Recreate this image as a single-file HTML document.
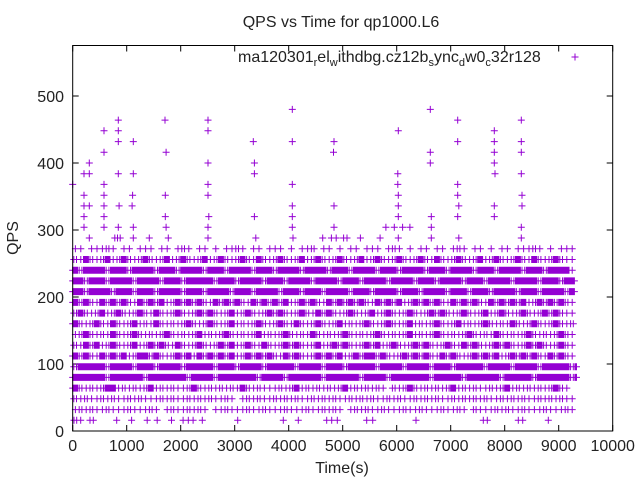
<!DOCTYPE html>
<html><head><meta charset="utf-8"><style>
html,body{margin:0;padding:0;background:#fff}
svg{display:block}
text{font-family:"Liberation Sans",sans-serif;fill:#222}
</style></head><body>
<svg id="chart" width="640" height="480" viewBox="0 0 640 480">
<rect x="0" y="0" width="640" height="480" fill="#fff"/>
<text x="341" y="27" font-size="16" text-anchor="middle">QPS vs Time for qp1000.L6</text>
<text transform="translate(18,238) rotate(-90)" font-size="16" text-anchor="middle">QPS</text>
<text x="342" y="473" font-size="16" text-anchor="middle">Time(s)</text>
<g id="ticks"></g>
<g id="marks"></g>
<rect x="72.7" y="45.5" width="540" height="385.5" fill="none" stroke="#000" stroke-width="1"/>
<g>
<text x="238" y="62" font-size="16">ma120301<tspan font-size="11" dy="4">r</tspan><tspan dy="-4">el</tspan><tspan font-size="11" dy="4">w</tspan><tspan dy="-4">ithdbg.cz12b</tspan><tspan font-size="11" dy="4">s</tspan><tspan dy="-4">ync</tspan><tspan font-size="11" dy="4">d</tspan><tspan dy="-4">w0</tspan><tspan font-size="11" dy="4">c</tspan><tspan dy="-4">32r128</tspan></text>
<path d="M571.5 57h7M575 53.5v7" stroke="#9400d3" stroke-width="1"/>
</g>
</svg>
<script>
const xTicks=[0,1000,2000,3000,4000,5000,6000,7000,8000,9000,10000];
const yTicks=[0,100,200,300,400,500];
const rowLevels=[32,48,64,80,96,112,128,144,160,176,192,208,224,240,256,272];
// each char = 100s bin: '#' dense, 'o' short run, '+' one point, '-' one point, ' ' none
const rowBins=[
"+o+o++o+-+o+++o+ +o++o+o+ -+o+++o++o+-+o+++o++o+o+ +o+o++o+-+o++o+++o++o+ o+++o+o++o+-+o+++o+",
"o+o++o+o++o+o+-+o+o++o+o+o++o+ +o+o++o+o+o++o+o+o++o+o+o+-o+o++o+o+o++o+o+o+o++o+o+o++o+o+o++",
"#o+o+o##+o+o+o#+o+o++o#o+o+o+o+#o+o+-+o+o#+o+o+o+o#+o+o+o+ o+o#o+o+o+o#+o+o++o+o#+o+o+o+o#o+",
"######o######o#######o####o#######o####o######o######o####o#######o#####o######o#####o######o#",
"o#####o####o###o####o#####o###o####o#####o####o###o#####o####o####o###o#####o####o####o#####o#",
"#o#o+#o#o#+o##o#o+o#o#+#o#o#o#+o#o#o#o+#o#o+o#o#o#+o#o##o#o+o#o#o#o+#o#o+o#o#o#+o#o#o#o+#o#o+",
"o+#o#+o#o+o#+o#o#o+#o+o#o+o#o#+o#o+#o+o#o#o+o#+o#o#o+o#o#+o#o+o#o#o+o#o+#o#o+o#o#o+o#o#o+o#o+",
"+o#o+o+#o+o#o+o+o#o+o+o#+o+o#o+o+o#+o+o#o+o+#o+o+o#o+o+o#o+o+o#+o+o#o+o+o#o+o+#o+o+o#o+o+o#o+",
"#o+o#o+#o+o#+o+#o+o+o#o+o#o+o#+o+o#o+o#o+#o+o#o+o#+o+o#o+o#o+o#+o+o#o+o#+o+o#o+o+#o+o#o+o#o+o",
"o#o+o#+o#o+o#o+#o+o#o+o#o#o+o#+o#o+o#o#o+o#o+#o#o+o#o+o#+o#o+o#o+o#o#o+o#o+o#+o#o+o#o+o#o#o++",
"#o#o+#o#o#o+#o#o#+o#o#o#o+#o#o#o+#o#o#o#+o#o#o+#o#o#o#o+#o#o#+o#o#o#o+#o#o#o+#o#o#o#+o#o#o#o+",
"##o####o###o###o####o###o####o###o####o###o###o####o###o####o###o####o###o###o####o###o####o#",
"##o###o####o####o###o#####o###o####o###o####o####o###o####o####o###o####o###o####o####o###o##",
"#o####o###o####o###o####o###o####o###o####o####o###o####o###o####o###o####o###o####o###o####+",
"o+#o+o#+o#o+o#o+o#+o#o+o#+o#o+o#o+#o+o#o+o#+o#o+o#o+o#+o#o+o#o+o#o+#o+o#o+o#+o#o+o#o+#o+o#o++",
"-+ +-+o+ -+ +-+ +- +o+ -+ + -+o+ -+ +-+ + -+o -+ + -+ +-+ +o- + -+ +- +o+ -+ + -+ +-+o+ - +-+ "
];
const row16Times=[24,74,148,320,382,815,1090,1380,1565,1830,2045,2140,2230,2400,3055,3900,4178,4703,4796,4900,5444,5555,6357,7603,7677,8251,8333,8807];
const upperTimes=[0,209,307,307,209,209,307,209,209,307,580,580,580,580,580,580,580,845,845,845,845,860,845,780,830,880,1123,1123,1110,1100,1123,1123,1419,1710,1730,1715,1715,1730,1770,2506,2506,2506,2506,2506,2520,2506,2506,3345,3365,3365,3365,3390,4067,4067,4067,4067,4067,4067,4080,4630,4790,4880,4839,4830,4839,4839,5017,5080,5327,5692,5800,5955,6110,6245,6030,6020,6020,6030,6030,6030,6030,6622,6622,6622,6640,6640,6640,7130,7130,7130,7130,7150,7130,7150,7807,7807,7807,7807,7820,7807,7807,8307,8307,8307,8307,8320,8320,8307,8307];
const upperQps=[368,384,384,400,352,336,336,320,304,288,448,416,368,352,336,320,304,464,448,432,384,336,304,288,288,288,432,384,352,336,304,288,288,464,416,352,320,304,288,464,448,400,368,352,320,304,288,432,400,384,320,288,480,432,368,336,320,304,288,288,288,288,432,416,336,304,288,288,288,288,304,304,304,304,448,384,368,352,336,320,288,480,416,400,320,304,288,464,432,368,352,336,320,288,448,432,416,400,384,336,320,464,432,416,384,352,336,304,288];

const X0=72.7,X1=612.7,Y0=431,Y1=96;
function xs(t){return X0+(t/10000)*(X1-X0);}
function ys(q){return Y0-(q/500)*(Y0-Y1);}
const NS="http://www.w3.org/2000/svg";
function cross(x,y){return "M"+(x-3.5).toFixed(1)+" "+y.toFixed(1)+"h7M"+x.toFixed(1)+" "+(y-3.5).toFixed(1)+"v7";}
const tg=document.getElementById('ticks');
let td="";
xTicks.forEach(function(v){
  const x=xs(v);
  td+="M"+x+" 431v-6M"+x+" 45.5v6";
  const t=document.createElementNS(NS,'text');
  t.setAttribute('x',x);t.setAttribute('y',451);t.setAttribute('font-size','16');t.setAttribute('text-anchor','middle');
  
  
  t.textContent=v;tg.appendChild(t);
});
yTicks.forEach(function(v){
  const y=ys(v);
  td+="M72.7 "+y+"h6M612.7 "+y+"h-6";
  const t=document.createElementNS(NS,'text');
  t.setAttribute('x',64);t.setAttribute('y',y+6);t.setAttribute('font-size','16');t.setAttribute('text-anchor','end');
  
  
  t.textContent=v;tg.appendChild(t);
});
const tp=document.createElementNS(NS,'path');
tp.setAttribute('d',td);tp.setAttribute('stroke','#000');tp.setAttribute('fill','none');


tg.appendChild(tp);

const mg=document.getElementById('marks');
function addPath(d,name){
  const p=document.createElementNS(NS,'path');
  p.setAttribute('d',d);p.setAttribute('stroke','#9400d3');p.setAttribute('fill','none');p.setAttribute('stroke-width','1');
  
  
  mg.appendChild(p);
}
const offs={'#':[0,10,20,30,40,50,60,70,80,90],'o':[20,70],'+':[50],'-':[50],' ':[]};
rowBins.forEach(function(s,i){
  const y=ys(rowLevels[i]);let d="";
  for(let b=0;b<s.length&&b<94;b++){
    (offs[s[b]]||[]).forEach(function(o){const t=b*100+o;if(t<=9330)d+=cross(xs(t),y);});
  }
  addPath(d,'points-row-'+rowLevels[i]);
});
let d16="";row16Times.forEach(function(t){d16+=cross(xs(t),ys(16));});
addPath(d16,'points-row-16');
let du="";upperTimes.forEach(function(t,i){du+=cross(xs(t),ys(upperQps[i]));});
addPath(du,'points-upper');
</script>
</body></html>
